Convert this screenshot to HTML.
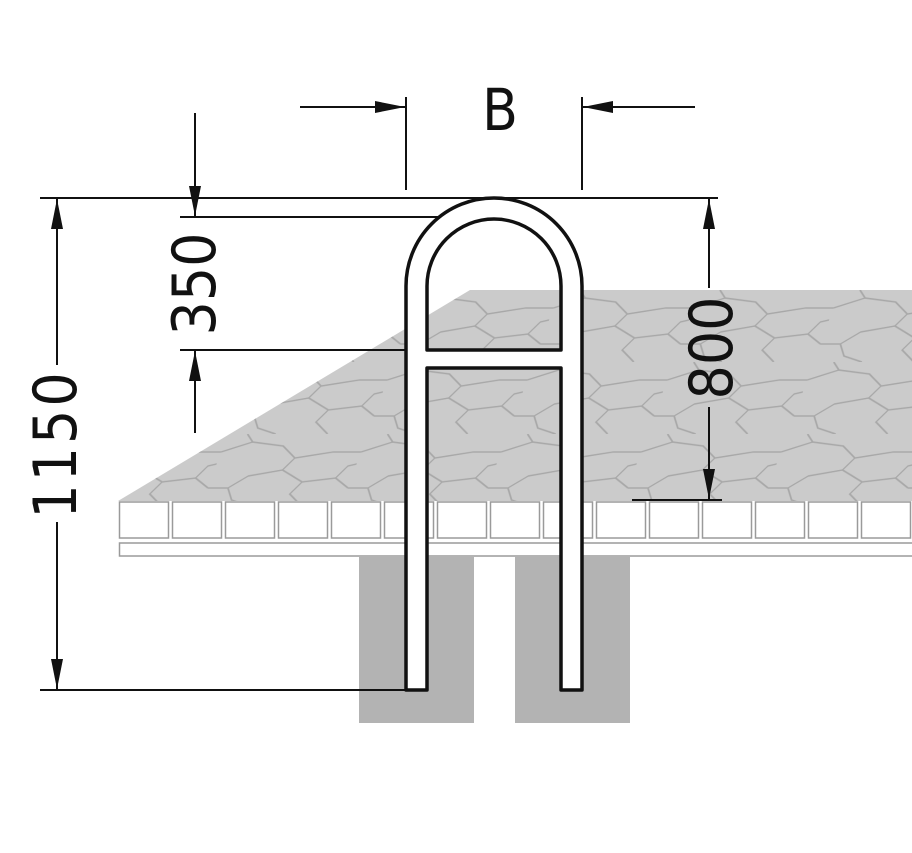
<!DOCTYPE html>
<html><head><meta charset="utf-8"><style>html,body{margin:0;padding:0;background:#fff}svg{display:block}</style></head><body>
<svg width="912" height="853" viewBox="0 0 912 853" xmlns="http://www.w3.org/2000/svg">
<defs>
<pattern id="hex" width="140" height="72" patternUnits="userSpaceOnUse" patternTransform="translate(0,290) skewX(-20)">
<path d="M0,18 L28,8 L60,12 L76,24 L68,36 L92,48 L124,44 L140,54 M76,24 L112,18 L140,18 M68,36 L36,42 L20,54 L0,54 M92,48 L84,60 L100,72 M20,54 L28,66 L48,72 M124,44 L132,32 L140,30 M28,8 L20,0" fill="none" stroke="#a8a8a8" stroke-width="1.5"/>
</pattern>
<marker id="a" viewBox="0 0 30 12" refX="30" refY="6" markerWidth="30" markerHeight="12" markerUnits="userSpaceOnUse" orient="auto"><path d="M0,0 L30,6 L0,12 Z" fill="#111"/></marker>
</defs>
<polygon points="118,501 470,290 912,290 912,501" fill="#cbcbcb"/>
<polygon points="118,501 470,290 912,290 912,501" fill="url(#hex)"/>
<g fill="#fff" stroke="#9a9a9a" stroke-width="1.5">
<rect x="119.5" y="502" width="49" height="36"/><rect x="172.5" y="502" width="49" height="36"/><rect x="225.5" y="502" width="49" height="36"/><rect x="278.5" y="502" width="49" height="36"/><rect x="331.5" y="502" width="49" height="36"/><rect x="384.5" y="502" width="49" height="36"/><rect x="437.5" y="502" width="49" height="36"/><rect x="490.5" y="502" width="49" height="36"/><rect x="543.5" y="502" width="49" height="36"/><rect x="596.5" y="502" width="49" height="36"/><rect x="649.5" y="502" width="49" height="36"/><rect x="702.5" y="502" width="49" height="36"/><rect x="755.5" y="502" width="49" height="36"/><rect x="808.5" y="502" width="49" height="36"/><rect x="861.5" y="502" width="49" height="36"/>
<rect x="119.5" y="543" width="800" height="13"/>
</g>
<rect x="359" y="557" width="115" height="166" fill="#b3b3b3"/>
<rect x="515" y="557" width="115" height="166" fill="#b3b3b3"/>
<g stroke="#111" stroke-width="2" fill="none">
<line x1="40" y1="198" x2="718" y2="198"/>
<line x1="180" y1="217" x2="500" y2="217"/>
<line x1="180" y1="350" x2="427" y2="350"/>
<line x1="40" y1="690" x2="406" y2="690"/>
<line x1="632" y1="500" x2="722" y2="500"/>
<line x1="406" y1="97" x2="406" y2="190"/>
<line x1="582" y1="97" x2="582" y2="190"/>
<line x1="300" y1="107" x2="405" y2="107" marker-end="url(#a)"/>
<line x1="695" y1="107" x2="583" y2="107" marker-end="url(#a)"/>
<line x1="57" y1="365" x2="57" y2="199" marker-end="url(#a)"/>
<line x1="57" y1="522" x2="57" y2="689" marker-end="url(#a)"/>
<line x1="195" y1="113" x2="195" y2="216" marker-end="url(#a)"/>
<line x1="195" y1="433" x2="195" y2="351" marker-end="url(#a)"/>
<line x1="709" y1="288" x2="709" y2="199" marker-end="url(#a)"/>
<line x1="709" y1="407" x2="709" y2="499" marker-end="url(#a)"/>
</g>
<path fill-rule="evenodd" fill="#fff" stroke="#111" stroke-width="3.5" stroke-linejoin="round" d="M406,690 V286 A88,88 0 0 1 582,286 V690 H561 V368 H427 V690 Z M427,350 V286 A67,67 0 0 1 561,286 V350 Z"/>
<g font-family="'DejaVu Sans Condensed','Liberation Sans',sans-serif" fill="#111" font-size="60">
<text x="500" y="130" text-anchor="middle" font-size="58">B</text>
<text transform="translate(76,444) rotate(-90)" text-anchor="middle" letter-spacing="3">1150</text>
<text transform="translate(215,284) rotate(-90)" text-anchor="middle">350</text>
<text transform="translate(732,348) rotate(-90)" text-anchor="middle">800</text>
</g>
</svg>
</body></html>
